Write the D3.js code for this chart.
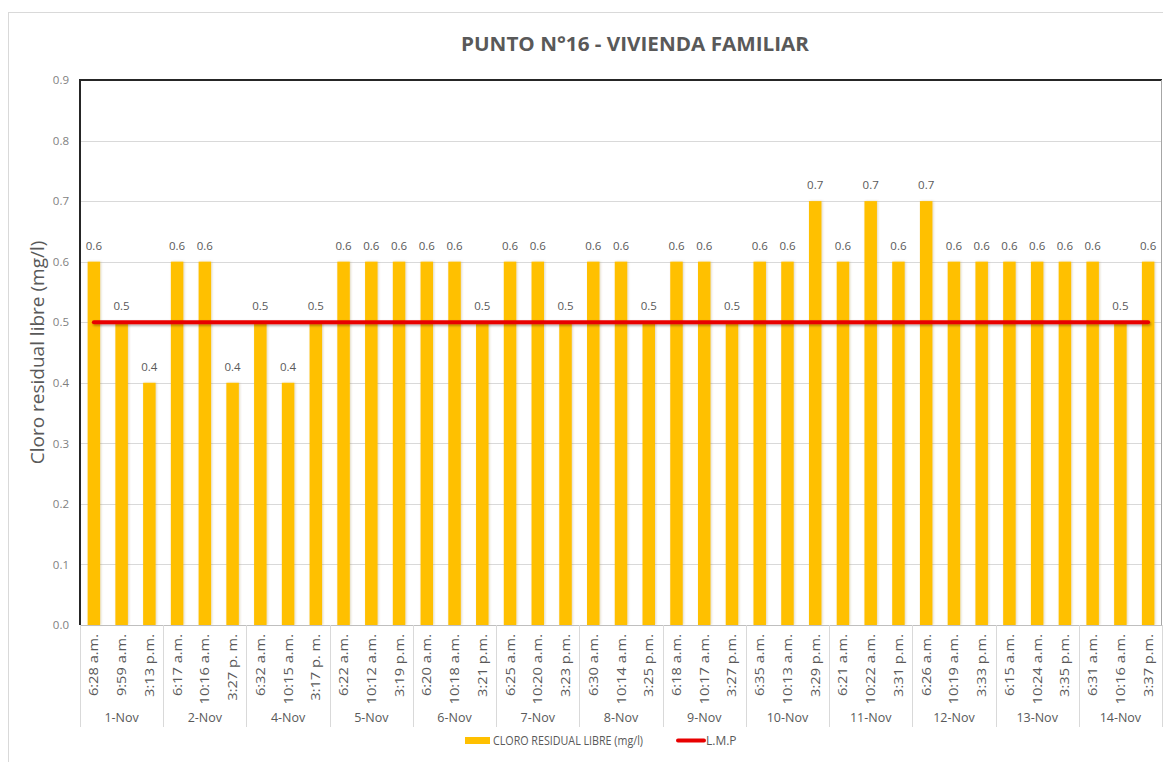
<!DOCTYPE html>
<html>
<head>
<meta charset="utf-8">
<script src="https://cdn.jsdelivr.net/npm/d3@7"></script>
<style>
  html, body { margin: 0; padding: 0; background: #fff; }
  svg { display: block; }
  text { font-family: "Liberation Sans Narrow", "Open Sans", "Noto Sans", sans-serif; }
</style>
</head>
<body>
<svg id="chart" width="1163" height="762"></svg>
<script>
// Sampling days and the three sampling times per day
const days = ["1-Nov", "2-Nov", "4-Nov", "5-Nov", "6-Nov", "7-Nov", "8-Nov",
              "9-Nov", "10-Nov", "11-Nov", "12-Nov", "13-Nov", "14-Nov"];
const times = [
  ["6:28 a.m.", "9:59 a.m.", "3:13 p.m."],
  ["6:17 a.m.", "10:16 a.m.", "3:27 p. m."],
  ["6:32 a.m.", "10:15 a.m.", "3:17 p. m."],
  ["6:22 a.m.", "10:12 a.m.", "3:19 p.m."],
  ["6:20 a.m.", "10:18 a.m.", "3:21 p.m."],
  ["6:25 a.m.", "10:20 a.m.", "3:23 p.m."],
  ["6:30 a.m.", "10:14 a.m.", "3:25 p.m."],
  ["6:18 a.m.", "10:17 a.m.", "3:27 p.m."],
  ["6:35 a.m.", "10:13 a.m.", "3:29 p.m."],
  ["6:21 a.m.", "10:22 a.m.", "3:31 p.m."],
  ["6:26 a.m.", "10:19 a.m.", "3:33 p.m."],
  ["6:15 a.m.", "10:24 a.m.", "3:35 p.m."],
  ["6:31 a.m.", "10:16 a.m.", "3:37 p.m."]
];
// Free residual chlorine (mg/l), one value per sample
const cloro = [
  [0.6, 0.5, 0.4],
  [0.6, 0.6, 0.4],
  [0.5, 0.4, 0.5],
  [0.6, 0.6, 0.6],
  [0.6, 0.6, 0.5],
  [0.6, 0.6, 0.5],
  [0.6, 0.6, 0.5],
  [0.6, 0.6, 0.5],
  [0.6, 0.6, 0.7],
  [0.6, 0.7, 0.6],
  [0.7, 0.6, 0.6],
  [0.6, 0.6, 0.6],
  [0.6, 0.5, 0.6]
];
// Maximum permissible limit
const lmp = 0.5;
const yTicks = [0, 0.1, 0.2, 0.3, 0.4, 0.5, 0.6, 0.7, 0.8, 0.9];

const title = "PUNTO N°16 - VIVIENDA FAMILIAR";
const yTitle = "Cloro residual libre (mg/l)";
const seriesName = "CLORO RESIDUAL LIBRE (mg/l)";
const limitName = "L.M.P";

// Flatten into one row per sample
const samples = [];
days.forEach((d, i) => times[i].forEach((t, j) => {
  samples.push({ key: d + "|" + t + "|" + j, day: d, time: t, value: cloro[i][j] });
}));

const svg = d3.select("#chart");
const M = { left: 80, top: 80, right: 1162, bottom: 625 };

const x = d3.scaleBand()
  .domain(samples.map(s => s.key))
  .range([M.left, M.right])
  .paddingInner(0.55)
  .paddingOuter(0.275);
const xDay = d3.scaleBand().domain(days).range([M.left, M.right]);
const y = d3.scaleLinear().domain([0, 0.9]).range([M.bottom, M.top]);

const grey = "#595959";
const sans = "'Open Sans', 'Noto Sans', sans-serif";

// Outer chart frame
svg.append("rect")
  .attr("x", 8.5).attr("y", 12.5)
  .attr("width", 1200).attr("height", 800)
  .attr("fill", "#fff").attr("stroke", "#d9d9d9");

// Title
svg.append("text")
  .attr("x", 635).attr("y", 51)
  .attr("text-anchor", "middle")
  .attr("font-family", sans)
  .attr("font-weight", "bold")
  .attr("font-size", 19.5)
  .attr("fill", grey)
  .attr("textLength", 348)
  .attr("lengthAdjust", "spacingAndGlyphs")
  .text(title);

// Horizontal gridlines
svg.append("g")
  .selectAll("line")
  .data(yTicks.slice(1))
  .join("line")
  .attr("x1", M.left).attr("x2", M.right)
  .attr("y1", d => Math.round(y(d)) + 0.5).attr("y2", d => Math.round(y(d)) + 0.5)
  .attr("stroke", "#d9d9d9");

// Y axis tick labels
const yAxis = d3.axisLeft(y).tickValues(yTicks).tickFormat(d3.format(".1f")).tickSize(0).tickPadding(11);
const gy = svg.append("g").attr("transform", `translate(${M.left},0)`).call(yAxis);
gy.select(".domain").remove();
gy.selectAll("text")
  .attr("font-size", 11.5)
  .attr("fill", "#7f7f7f")
  .attr("font-family", sans);

// Y axis title
svg.append("text")
  .attr("transform", `translate(44, ${(M.top + M.bottom) / 2}) rotate(-90)`)
  .attr("text-anchor", "middle")
  .attr("font-family", sans)
  .attr("font-size", 19)
  .attr("fill", grey)
  .text(yTitle);

// Soft shadows for bars and the limit line
const defs = svg.append("defs");
const sh = defs.append("filter").attr("id", "shadow")
  .attr("filterUnits", "userSpaceOnUse")
  .attr("x", 0).attr("y", 0).attr("width", 1163).attr("height", 762);
sh.append("feDropShadow").attr("dx", 1).attr("dy", 1.5).attr("stdDeviation", 1.2)
  .attr("flood-color", "#000").attr("flood-opacity", 0.35);
const shBar = defs.append("filter").attr("id", "barShadow")
  .attr("x", "-50%").attr("y", "-10%").attr("width", "200%").attr("height", "120%");
shBar.append("feDropShadow").attr("dx", 1).attr("dy", 0).attr("stdDeviation", 0.8)
  .attr("flood-color", "#7a5a00").attr("flood-opacity", 0.25);

// Bars
svg.append("g")
  .selectAll("rect")
  .data(samples)
  .join("rect")
  .attr("x", d => x(d.key))
  .attr("width", x.bandwidth())
  .attr("y", d => y(d.value))
  .attr("height", d => y(0) - y(d.value))
  .attr("fill", "#FFC000")
  .attr("filter", "url(#barShadow)");

// Value labels
svg.append("g")
  .selectAll("text")
  .data(samples)
  .join("text")
  .attr("x", d => x(d.key) + x.bandwidth() / 2)
  .attr("y", d => y(d.value) - 12)
  .attr("text-anchor", "middle")
  .attr("font-family", sans)
  .attr("font-size", 11.5)
  .attr("fill", grey)
  .text(d => d3.format(".1f")(d.value));

// Limit line (L.M.P) across the sample centres
const line = d3.line().x(d => x(d.key) + x.bandwidth() / 2).y(() => y(lmp));
svg.append("path")
  .datum([samples[0], samples[samples.length - 1]])
  .attr("d", line)
  .attr("fill", "none")
  .attr("stroke", "#E80000")
  .attr("stroke-width", 4)
  .attr("stroke-linecap", "round")
  .attr("filter", "url(#shadow)");

// Plot area border: dark top and left, light bottom and right
svg.append("line").attr("x1", M.left).attr("x2", M.right).attr("y1", M.top).attr("y2", M.top)
  .attr("stroke", "#262626").attr("stroke-width", 2);
svg.append("line").attr("x1", M.left).attr("x2", M.left).attr("y1", M.top - 1).attr("y2", M.bottom)
  .attr("stroke", "#262626").attr("stroke-width", 2);
svg.append("line").attr("x1", M.right - 0.5).attr("x2", M.right - 0.5).attr("y1", M.top).attr("y2", M.bottom)
  .attr("stroke", "#a6a6a6").attr("stroke-width", 1);
svg.append("line").attr("x1", M.left).attr("x2", M.right).attr("y1", M.bottom + 0.5).attr("y2", M.bottom + 0.5)
  .attr("stroke", "#bfbfbf").attr("stroke-width", 1);

// Time labels (rotated, slightly stretched along the reading direction)
svg.append("g")
  .selectAll("text")
  .data(samples)
  .join("text")
  .attr("transform", d => `translate(${x(d.key) + x.bandwidth() / 2 + 4.5}, 634) rotate(-90) scale(1.22,1)`)
  .attr("text-anchor", "end")
  .attr("font-family", sans)
  .attr("font-size", 12)
  .attr("fill", grey)
  .text(d => d.time);

// Day group separators
const bounds = days.map(d => xDay(d)).concat([M.right]);
svg.append("g")
  .selectAll("line")
  .data(bounds)
  .join("line")
  .attr("x1", d => Math.round(d) + 0.5).attr("x2", d => Math.round(d) + 0.5)
  .attr("y1", M.bottom).attr("y2", 727)
  .attr("stroke", "#d9d9d9");

// Day labels
svg.append("g")
  .selectAll("text")
  .data(days)
  .join("text")
  .attr("x", d => xDay(d) + xDay.bandwidth() / 2)
  .attr("y", 722)
  .attr("text-anchor", "middle")
  .attr("font-size", 12.5)
  .attr("fill", grey)
  .text(d => d);

// Legend
const lg = svg.append("g");
lg.append("rect").attr("x", 465).attr("y", 737).attr("width", 25).attr("height", 7).attr("fill", "#FFC000");
lg.append("text").attr("x", 493).attr("y", 745).attr("font-size", 12).attr("fill", grey)
  .attr("textLength", 150).attr("lengthAdjust", "spacingAndGlyphs").text(seriesName);
lg.append("line").attr("x1", 678).attr("x2", 704).attr("y1", 740.5).attr("y2", 740.5)
  .attr("stroke", "#E80000").attr("stroke-width", 4).attr("stroke-linecap", "round");
lg.append("text").attr("x", 706).attr("y", 745).attr("font-size", 12).attr("fill", grey).text(limitName);
</script>
</body>
</html>
